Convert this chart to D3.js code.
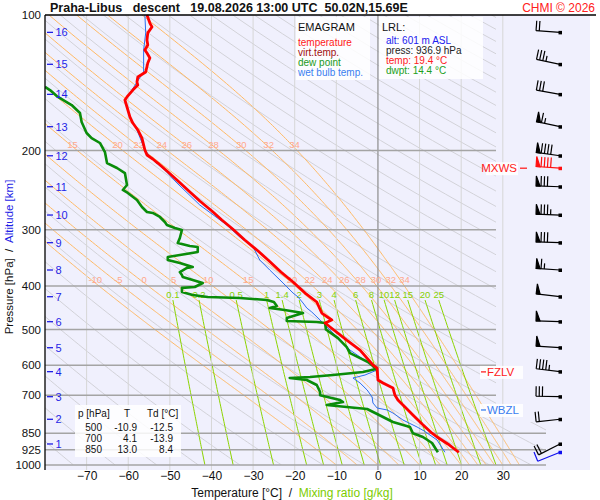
<!DOCTYPE html>
<html lang="en">
<head>
<meta charset="utf-8">
<title>Emagram Praha-Libus</title>
<script src="https://d3js.org/d3.v7.min.js"></script>
<style>
  body { margin: 0; background: #fff; }
  svg text { font-family: "Liberation Sans", Arial, sans-serif; white-space: pre; }
</style>
</head>
<body>
<div id="viz"></div>
<script>
// ---- sounding (p in hPa, values in °C) ----
const tempP = [100,104.2,106.3,109.6,113.7,116.6,119.6,121.5,124.6,127.8,133.9,137.3,140.9,143.1,146.8,152.1,154.5,160.1,168.5,173.8,180.1,187.7,199.5,204.7,208.9,213.3,222.2,232.6,244.8,259,272.6,285.5,298.9,316.2,334.6,350.3,372.5,392.1,414.8,434.3,459.5,476.2,483.6,493.6,527.8,555.5,599.5,608.8,647.3,657.3,674.3,700,717.1,743.2,774.3,810.8,850,866.5,898,936.9];
const tempT = [-55.5,-54.8,-54.3,-55.3,-55.5,-55.3,-56.0,-55.5,-54.8,-55.3,-55.8,-57.7,-57.9,-57.7,-58.9,-60.3,-60.8,-60.3,-59.6,-58.9,-57.7,-56.7,-56.0,-55.5,-54.1,-52.9,-50.7,-48.3,-45.7,-42.8,-39.9,-37.5,-34.9,-32.0,-28.8,-26.4,-23.3,-20.4,-17.5,-14.7,-13.5,-11.1,-12.7,-11.5,-7.5,-4.3,-1.2,-0.2,0.0,1.2,3.6,4.1,4.8,6.5,8.4,10.6,13.0,14.2,16.8,19.4];

const dewP = [144.5,146.8,152.1,156.1,158.5,165.1,172.9,182.9,187.7,192.5,201.6,213.3,218.8,224.5,238.7,244.8,248.6,257.7,267.1,274,275.4,281.1,288.4,292.9,297.4,300.4,313,321.1,326.1,327.7,336.3,341.5,345,350.3,355.7,363.1,364.9,372.5,378.3,382.2,388.1,394.1,402.2,404,412.7,419,423.3,425.5,429.9,434.3,443.3,447.8,452.4,459.5,471.4,478.6,481.1,483.6,500,522.4,547,564.1,578.7,590.3,602.6,611.9,621.4,624.5,631,637.4,640.7,647.3,664.1,688.3,700,717.1,724.4,735.6,743.2,750.8,770.3,786.2,802.5,823.3,850,866.5,893.4,936.9];
const dewT = [-80.0,-78.8,-76.9,-74.8,-73.6,-71.6,-71.2,-70.0,-68.8,-66.8,-65.6,-65.1,-62.7,-60.8,-60.3,-61.3,-60.1,-57.9,-56.7,-55.5,-54.1,-52.4,-51.2,-50.7,-48.8,-47.1,-47.6,-48.1,-45.2,-43.3,-43.3,-47.6,-50.5,-50.5,-47.6,-44.5,-45.9,-47.6,-47.1,-46.9,-44.5,-42.1,-44.0,-47.1,-47.1,-44.5,-40.9,-33.2,-26.7,-25.0,-24.3,-26.0,-22.4,-18.0,-21.9,-21.9,-14.7,-12.7,-12.5,-9.6,-7.5,-6.7,-4.3,-2.4,-1.2,-0.5,-3.6,-6.0,-10.8,-16.3,-21.2,-17.1,-14.7,-13.9,-13.9,-9.1,-8.4,-12.3,-7.5,-2.6,-0.2,1.7,3.6,7.7,8.4,10.8,13.0,14.4];

const wetP = [100,109.6,119.6,133.9,140.9,146.8,154.5,160.1,168.5,180.1,199.5,208.9,222.2,236.2,264.4,292.9,311.4,327.7,350.3,368.7,394.1,414.8,423.3,436.5,447.8,457.1,476.2,483.6,501.2,527.8,555.5,575.4,590.3,605.7,615,631,637.4,640.7,657.3,681.3,706.1,728.2,747,754.6,766.3,794.3,823.3,840.2,879.9,936.9];
const wetT = [-56.0,-55.8,-56.3,-56.3,-57.9,-59.1,-60.8,-60.3,-59.6,-57.9,-56.0,-54.3,-51.0,-48.3,-42.8,-36.3,-33.2,-30.0,-28.4,-26.0,-22.8,-20.4,-19.2,-18.0,-17.1,-15.9,-13.9,-13.2,-11.5,-9.1,-6.7,-4.3,-2.6,-0.7,-0.2,-3.1,-5.0,-6.0,-4.3,-2.6,-1.4,-1.2,-0.2,2.2,3.6,6.0,9.4,11.1,14.2,16.1];

// altitude ticks (km) and the pressure they sit at
const altKm = [16,15,14,13,12,11,10,9,8,7,6,5,4,3,2,1];
const altP = [109.3,128.7,150.1,177.1,205.5,240.8,278.3,320.6,368.7,422.7,480.3,548.7,620.3,705.0,791.4,898];

// wind barbs: pressure, direction (deg), speed (kt), kind
const windP = [109.3,128.7,150.1,177.1,205.5,219,240.8,278.3,320.6,368.7,422.7,480.3,548.7,620.3,705.0,791.4,898,936.9];
const windDir = [274,282,280,282,278,274,272,272,272,274,277,272,274,277,271,264,243,248];
const windSpd = [20,35,30,65,90,90,80,85,80,65,50,50,50,45,30,20,20,10];
const windKind = ["", "", "", "", "", "max", "", "", "", "", "", "", "", "", "", "", "", "sfc"];

// special levels
const levelNames = ["MXWS", "FZLV", "WBZL"];
const levelP = [219, 621, 754.6];

// chart furniture values
const isobars = [200,300,400,500,600,700,850,925,1000];
const pressLabels = [100,200,300,400,500,600,700,850,925,1000];
const isotherms = [-70,-60,-50,-40,-30,-20,-10,0,10,20,30];
const moistW = [-10,-5,0,5,10,15,20,22,24,26,28,30,32,34];
const mixR = [0.1,0.2,0.5,1,1.4,2,3,4,6,8,10,12,15,20,25];
const mixLabels = ["0.1","0.2","0.5","1","1.4","2","3","4","6","8","10","12","15","20","25"];

// table and LRL box
const tabP = [500,700,850];
const tabT = ["-10.9","4.1","13.0"];
const tabTd = ["-12.5","-13.9","8.4"];
const lrl = ["alt: 601 m ASL", "press: 936.9 hPa", "temp: 19.4 °C", "dwpt: 14.4 °C"];
const lrlColors = ["#2020ee", "#222", "#ff2020", "#20a020"];
const legendNames = ["temperature", "virt.temp.", "dew point", "wet bulb temp."];
const legendColors = ["#ff2020", "#a01010", "#1a9a1a", "#3a7ef0"];

const W = 600, H = 500;
const svg = d3.select("#viz").append("svg")
    .attr("width", W).attr("height", H);

const x = d3.scaleLinear().domain([-80, 30]).range([45, 502.8]);
const y = d3.scaleLog().domain([100, 1000]).range([15, 465]);

// background
svg.append("rect").attr("x", 45).attr("y", 15).attr("width", 545).attr("height", 455)
    .attr("fill", "#f0f0fd");

const defs = svg.append("defs");
defs.append("clipPath").attr("id", "gridclip").append("polygon")
    .attr("points", "45,15 496,15 496,422 546,422 546,465 45,465");
defs.append("clipPath").attr("id", "dataclip").append("rect")
    .attr("x", 45).attr("y", 0).attr("width", 460).attr("height", 466);

const grid = svg.append("g").attr("clip-path", "url(#gridclip)");
const line = d3.line().x(d => x(d[1])).y(d => y(d[0]));

// isotherms
svg.append("g").selectAll("line").data(isotherms).join("line")
    .attr("x1", d => x(d)).attr("x2", d => x(d))
    .attr("y1", 15).attr("y2", 470)
    .attr("stroke", d => d === 0 ? "#8c8c8c" : "#d6d6d6")
    .attr("stroke-width", d => d === 0 ? 1.2 : 1);

// dry adiabats, every 10 K
const levels = d3.range(100, 1001, 10);
const thetas = d3.range(190, 591, 10);
grid.append("g").selectAll("path").data(thetas).join("path")
    .attr("d", th => line(levels.map(p => [p, th * Math.pow(p / 1000, 0.2857) - 273.15])))
    .attr("fill", "none").attr("stroke", "#d2d2d8").attr("stroke-width", 1);

// moist (pseudo) adiabats
function lapse(p, T) {
  const tc = T - 273.15;
  const es = 6.112 * Math.exp(17.67 * tc / (tc + 243.5));
  const rs = 0.622 * es / (p - es);
  return (287.04 * T + 2.501e6 * rs) / (p * (1005.7 + 2.501e6 * 2.501e6 * rs * 0.622 / (287.04 * T * T)));
}
function moist(thw) {
  const pts = [];
  let T = thw + 273.15;
  for (let p = 1000; p >= 100; p -= 2) {
    pts.push([p, T - 273.15]);
    const k1 = lapse(p, T);
    const k2 = lapse(p - 1, T - k1);
    T -= 2 * k2;
  }
  return pts;
}
const moistLines = moistW.map(moist);
grid.append("g").selectAll("path").data(moistLines).join("path")
    .attr("d", line)
    .attr("fill", "none").attr("stroke", "#ffb964").attr("stroke-width", 1);

// mixing ratio lines
function dewpointFor(r, p) {
  const e = (r / 1000) * p / (0.622 + r / 1000);
  const l = Math.log(e / 6.112);
  return 243.5 * l / (17.67 - l);
}
const mixTop = 430;
grid.append("g").selectAll("path").data(mixR).join("path")
    .attr("d", r => line(d3.range(mixTop, 1001, 10).map(p => [p, dewpointFor(r, p)])))
    .attr("fill", "none").attr("stroke", "#8cd400").attr("stroke-width", 1);

// isobars
svg.append("g").selectAll("line").data(isobars).join("line")
    .attr("x1", 45).attr("x2", d => d >= 850 ? 546 : 496)
    .attr("y1", d => y(d)).attr("y2", d => y(d))
    .attr("stroke", "#a4a4a4").attr("stroke-width", 1.5);

// moist adiabat labels, two rows
function tAt(pts, p) {
  const i = pts.findIndex(d => d[0] <= p);
  return pts[i][1];
}
const labRows = [193, 386];
labRows.forEach(lp => {
  svg.append("g").selectAll("text")
    .data(moistLines.filter(m => x(tAt(m, lp)) > 55))
    .join("text")
    .attr("x", m => x(tAt(m, lp)) + 5)
    .attr("y", y(lp) + 4)
    .attr("text-anchor", "middle")
    .attr("font-size", 9.5)
    .attr("fill", "#ffa98e")
    .text(m => moistW[moistLines.indexOf(m)]);
});

// mixing ratio labels
svg.append("g").selectAll("text").data(mixR).join("text")
    .attr("x", r => x(dewpointFor(r, mixTop)))
    .attr("y", y(mixTop) - 2)
    .attr("text-anchor", "middle")
    .attr("font-size", 9.5)
    .attr("fill", "#86d000")
    .text((r, i) => mixLabels[i]);

// sounding curves
const data = svg.append("g").attr("clip-path", "url(#dataclip)");
const zip = (P, T) => P.map((p, i) => [p, T[i]]);
data.append("path").datum(zip(tempP, tempT)).attr("d", line)
    .attr("fill", "none").attr("stroke", "#a01010").attr("stroke-width", 1);
data.append("path").datum(zip(wetP, wetT)).attr("d", line)
    .attr("fill", "none").attr("stroke", "#2a6ef0").attr("stroke-width", 1);
data.append("path").datum(zip(dewP, dewT)).attr("d", line)
    .attr("fill", "none").attr("stroke", "#0a8c0a").attr("stroke-width", 2.6)
    .attr("stroke-linejoin", "round");
data.append("path").datum(zip(tempP, tempT)).attr("d", line)
    .attr("fill", "none").attr("stroke", "#ff0000").attr("stroke-width", 2.8)
    .attr("stroke-linejoin", "round");

// frame
svg.append("line").attr("x1", 45).attr("x2", 596).attr("y1", 15).attr("y2", 15)
    .attr("stroke", "#000").attr("stroke-width", 1.3);
svg.append("line").attr("x1", 45).attr("x2", 45).attr("y1", 15).attr("y2", 470)
    .attr("stroke", "#000").attr("stroke-width", 1.3);

// axes
const yAxis = svg.append("g").attr("transform", "translate(41,0)")
    .call(d3.axisLeft(y).tickValues(pressLabels).tickSize(0).tickPadding(0).tickFormat(d3.format("d")));
yAxis.select(".domain").remove();
yAxis.selectAll("text").attr("font-size", 11.5).attr("fill", "#111")
    .attr("font-family", "Liberation Sans, Arial, sans-serif");

const xAxis = svg.append("g").attr("transform", "translate(0,471)")
    .call(d3.axisBottom(x).tickValues(isotherms).tickSize(0).tickPadding(0).tickFormat(d3.format("d")));
xAxis.select(".domain").remove();
xAxis.selectAll("text").attr("font-size", 12).attr("fill", "#111")
    .attr("font-family", "Liberation Sans, Arial, sans-serif");

// altitude ticks
const alt = svg.append("g");
alt.selectAll("line").data(altP).join("line")
    .attr("x1", 47).attr("x2", 53)
    .attr("y1", d => y(d)).attr("y2", d => y(d))
    .attr("stroke", "#1f1fe6").attr("stroke-width", 1.3);
alt.selectAll("text").data(altKm).join("text")
    .attr("x", 55.5).attr("y", (d, i) => y(altP[i]) + 4)
    .attr("font-size", 11).attr("fill", "#1f1fe6")
    .text(d => d);

// axis titles
const yt = svg.append("text")
    .attr("transform", "translate(13,257) rotate(-90)")
    .attr("text-anchor", "middle").attr("font-size", 11.5);
yt.append("tspan").attr("fill", "#111").text("Pressure [hPa]  /  ");
yt.append("tspan").attr("fill", "#1f1fe6").text("Altitude [km]");

const xt = svg.append("text").attr("x", 292).attr("y", 497)
    .attr("text-anchor", "middle").attr("font-size", 12);
xt.append("tspan").attr("fill", "#111").text("Temperature [°C]  /  ");
xt.append("tspan").attr("fill", "#7ccc00").text("Mixing ratio [g/kg]");

// title
svg.append("text").attr("x", 50).attr("y", 11.5)
    .attr("font-size", 12.5).attr("font-weight", "bold").attr("fill", "#111")
    .text("Praha-Libus   descent   19.08.2026 13:00 UTC  50.02N,15.69E");
svg.append("text").attr("x", 595).attr("y", 11.5).attr("text-anchor", "end")
    .attr("font-size", 12).attr("fill", "#ff2020").text("CHMI © 2026");

// legend box
svg.append("rect").attr("x", 296).attr("y", 17).attr("width", 74).attr("height", 63)
    .attr("fill", "#fff").attr("opacity", 0.85);
svg.append("text").attr("x", 298).attr("y", 31).attr("font-size", 11).attr("fill", "#111").text("EMAGRAM");
svg.append("g").selectAll("text").data(legendNames).join("text")
    .attr("x", 298).attr("y", (d, i) => 46 + i * 10)
    .attr("font-size", 10).attr("fill", (d, i) => legendColors[i]).text(d => d);

// LRL box
svg.append("rect").attr("x", 379).attr("y", 17).attr("width", 104).attr("height", 62)
    .attr("fill", "#fff").attr("opacity", 0.85);
svg.append("text").attr("x", 382).attr("y", 31).attr("font-size", 11).attr("fill", "#111").text("LRL:");
svg.append("g").selectAll("text").data(lrl).join("text")
    .attr("x", 386).attr("y", (d, i) => 44 + i * 10)
    .attr("font-size", 10).attr("fill", (d, i) => lrlColors[i]).text(d => d);

// table
svg.append("rect").attr("x", 75).attr("y", 405).attr("width", 106).attr("height", 52)
    .attr("fill", "#fff").attr("opacity", 0.85);
const tab = svg.append("g").attr("font-size", 10).attr("fill", "#111");
tab.append("text").attr("x", 78).attr("y", 417).text("p [hPa]");
tab.append("text").attr("x", 124).attr("y", 417).text("T");
tab.append("text").attr("x", 147).attr("y", 417).text("Td [°C]");
tabP.forEach((p, i) => {
  const ty = 431 + i * 11;
  tab.append("text").attr("x", 102).attr("y", ty).attr("text-anchor", "end").text(p);
  tab.append("text").attr("x", 137).attr("y", ty).attr("text-anchor", "end").text(tabT[i]);
  tab.append("text").attr("x", 173).attr("y", ty).attr("text-anchor", "end").text(tabTd[i]);
});

// special level labels
const lev = svg.append("g").attr("font-size", 11.5);
levelNames.forEach((name, i) => {
  const ly = y(levelP[i]);
  const col = name === "WBZL" ? "#3a7ef0" : "#ff2020";
  if (name === "MXWS") {
    lev.append("rect").attr("x", 486).attr("y", ly - 6).attr("width", 32).attr("height", 13).attr("fill", "#fff").attr("opacity", 0.85);
    lev.append("text").attr("x", 517).attr("y", ly + 4).attr("text-anchor", "end").attr("fill", col).text(name);
    lev.append("line").attr("x1", 520).attr("x2", 527).attr("y1", ly).attr("y2", ly).attr("stroke", col).attr("stroke-width", 1.3);
  } else {
    lev.append("rect").attr("x", 480).attr("y", ly - 6).attr("width", 43).attr("height", 13).attr("fill", "#fff").attr("opacity", 0.85);
    lev.append("line").attr("x1", 481).attr("x2", 486).attr("y1", ly).attr("y2", ly).attr("stroke", col).attr("stroke-width", 1.3);
    lev.append("text").attr("x", 487).attr("y", ly + 4).attr("fill", col).text(name);
  }
});

// wind barbs
const bx = 560, staff = 24;
const barbs = svg.append("g").attr("fill", "none").attr("stroke-width", 1.2);
windP.forEach((p, i) => {
  const col = windKind[i] === "max" ? "#ff1010" : windKind[i] === "sfc" ? "#1010ee" : "#000";
  const a = windDir[i] * Math.PI / 180;
  const sx = Math.sin(a), sy = -Math.cos(a);   // unit vector toward where the wind comes from
  const px = -sy, py = sx;                      // barb side
  const by = y(p);
  const ex = bx + sx * staff, ey = by + sy * staff;
  const g = barbs.append("g").attr("stroke", col);
  g.append("line").attr("x1", bx).attr("y1", by).attr("x2", ex).attr("y2", ey);
  g.append("rect").attr("x", bx - 1.5).attr("y", by - 1.5).attr("width", 3.5).attr("height", 3.5)
      .attr("fill", col).attr("stroke", "none");
  let s = Math.round(windSpd[i] / 5) * 5;
  let pos = 0;
  const step = 3.2;
  while (s >= 50) {
    const ax = ex - sx * pos, ay = ey - sy * pos;
    g.append("path")
      .attr("d", `M${ax},${ay}L${ax + px * 10},${ay + py * 10}L${ax - sx * 4},${ay - sy * 4}Z`)
      .attr("fill", col);
    pos += 5; s -= 50;
  }
  while (s >= 10) {
    const ax = ex - sx * pos, ay = ey - sy * pos;
    g.append("line").attr("x1", ax).attr("y1", ay).attr("x2", ax + px * 10).attr("y2", ay + py * 10);
    pos += step; s -= 10;
  }
  if (s >= 5) {
    const ax = ex - sx * pos, ay = ey - sy * pos;
    g.append("line").attr("x1", ax).attr("y1", ay).attr("x2", ax + px * 5.5).attr("y2", ay + py * 5.5);
  }
});
</script>
</body>
</html>
